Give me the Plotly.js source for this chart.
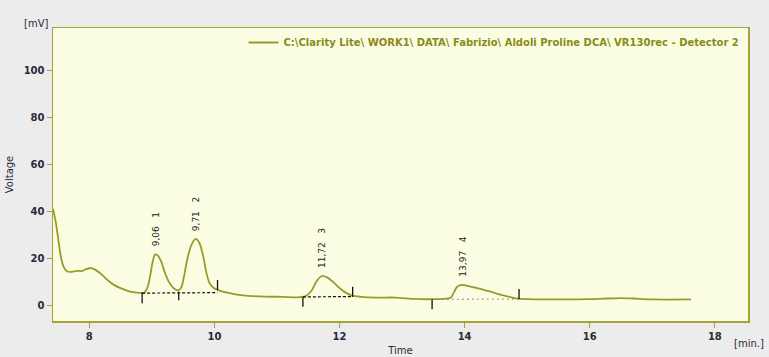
<!DOCTYPE html>
<html>
<head>
<meta charset="utf-8">
<script src="https://cdn.plot.ly/plotly-3.0.1.min.js"></script>
<style>html,body{margin:0;padding:0;background:#ececec;}#chart{width:769px;height:357px;}</style>
</head>
<body>
<div id="chart"></div>
<script>
// Chromatogram signal
const time = [7.42,7.46,7.5,7.55,7.6,7.65,7.72,7.8,7.88,7.95,8.03,8.1,8.2,8.3,8.4,8.5,8.6,8.7,8.8,8.88,8.93,8.97,9.01,9.05,9.1,9.15,9.2,9.27,9.35,9.42,9.47,9.52,9.57,9.63,9.7,9.76,9.82,9.87,9.92,9.98,10.05,10.15,10.3,10.5,10.8,11.1,11.3,11.45,11.55,11.63,11.72,11.8,11.9,12.0,12.1,12.2,12.35,12.6,12.9,13.2,13.5,13.7,13.78,13.83,13.88,13.95,14.05,14.2,14.4,14.6,14.8,15.0,15.5,16.0,16.3,16.5,16.7,17.0,17.62];
const voltage = [41,36,29,20,15.8,14.3,14.2,14.6,14.5,15.3,15.8,15,13,10.5,8.5,7.2,6.2,5.5,5.2,5.3,7.5,12,18,21.5,21,18.5,14.5,10,7.2,6.3,7.5,13,20,25.5,28.2,26.5,21,14,9.5,7.5,6.5,5.6,4.8,4.0,3.6,3.5,3.3,3.7,6,10,12.4,11.8,9.8,7.3,5.3,4.0,3.5,3.2,3.2,2.6,2.5,2.7,3.2,5.5,7.8,8.6,8.2,7.2,5.8,4.2,3.0,2.5,2.4,2.5,2.8,3.0,2.8,2.4,2.4];

// Peaks
const peakTimes = [9.06, 9.71, 11.72, 13.97];
const peakHeights = [21.5, 28.2, 12.4, 8.6];
const peakLabels = ["9,06", "9,71", "11,72", "13,97"];
const peakNumbers = ["1", "2", "3", "4"];

// Integration marks (vertical ticks)
const markX  = [8.845, 9.43, 10.05, 11.415, 12.21, 13.48, 14.87];
const markY0 = [0.8, 2.1, 6.4, -0.7, 3.5, -1.8, 2.6];
const markY1 = [5.2, 5.7, 10.7, 3.3, 7.8, 2.4, 6.9];

// Baselines
const baseDashX = [8.845, 10.05, null, 11.415, 12.21];
const baseDashY = [5.1, 5.3, null, 3.5, 3.6];
const baseDotX = [13.48, 14.87];
const baseDotY = [2.4, 2.6];

const xTicks = [8, 10, 12, 14, 16, 18];
const yTicks = [0, 20, 40, 60, 80, 100];

const seriesName = "C:\\Clarity Lite\\ WORK1\\ DATA\\ Fabrizio\\ Aldoli Proline DCA\\ VR130rec - Detector 2";

const olive = '#9a9a2c';
const frame = '#a3a33a';
const tickFont = {family: 'DejaVu Sans', size: 10, color: '#2a2a3a', weight: 'bold'};

const mx = [], my = [];
markX.forEach((x, i) => { mx.push(x, x, null); my.push(markY0[i], markY1[i], null); });

const traces = [
  {x: time, y: voltage, type: 'scatter', mode: 'lines', name: seriesName,
   line: {color: olive, width: 1.8, shape: 'spline', smoothing: 0.8}, hoverinfo: 'skip'},
  {x: baseDashX, y: baseDashY, type: 'scatter', mode: 'lines', showlegend: false,
   line: {color: '#111', width: 1.2, dash: '3px,2px'}, hoverinfo: 'skip'},
  {x: baseDotX, y: baseDotY, type: 'scatter', mode: 'lines', showlegend: false,
   line: {color: '#8a8a8a', width: 1.3, dash: '1.5px,3.5px'}, hoverinfo: 'skip'},
  {x: mx, y: my, type: 'scatter', mode: 'lines', showlegend: false,
   line: {color: '#111', width: 1.3}, hoverinfo: 'skip'}
];

const annotations = peakTimes.map((t, i) => ({
  x: t, y: peakHeights[i], xref: 'x', yref: 'y',
  text: peakLabels[i] + '\u00a0\u00a0\u00a0' + peakNumbers[i],
  showarrow: false, textangle: -90, xanchor: 'center', yanchor: 'bottom', yshift: 6,
  font: {family: 'DejaVu Sans', size: 9, color: '#222'}
}));
annotations.push({xref: 'paper', yref: 'paper', x: 0, y: 1, xanchor: 'right', yanchor: 'bottom',
  xshift: -3, yshift: -3, text: '[mV]', showarrow: false, font: {family: 'DejaVu Sans', size: 10, color: '#2a2a3a'}});
annotations.push({xref: 'paper', yref: 'paper', x: 1, y: 0, xanchor: 'left', yanchor: 'middle',
  xshift: -16, yshift: -22, text: '[min.]', showarrow: false, font: {family: 'DejaVu Sans', size: 10, color: '#2a2a3a'}});

const layout = {
  width: 769, height: 357,
  margin: {l: 53, r: 21, t: 28, b: 36},
  paper_bgcolor: '#ececec', plot_bgcolor: '#fbfde2',
  showlegend: true,
  legend: {x: 0.995, xanchor: 'right', y: 1, yanchor: 'top', bgcolor: 'rgba(0,0,0,0)',
    font: {family: 'DejaVu Sans', size: 10, color: '#8a8a1a', weight: 'bold'}, itemwidth: 30},
  xaxis: {range: [7.42, 18.53], tickvals: xTicks, ticks: 'outside', ticklen: 5, tickcolor: frame,
    showgrid: false, zeroline: false, showline: true, linecolor: frame, linewidth: 1.5, mirror: true,
    tickfont: tickFont, title: {text: 'Time', standoff: 6, font: {family: 'DejaVu Sans', size: 10, color: '#2a2a3a'}}},
  yaxis: {range: [-6.8, 118.2], tickvals: yTicks, ticks: 'outside', ticklen: 5, tickcolor: frame,
    showgrid: false, zeroline: false, showline: true, linecolor: frame, linewidth: 1.5, mirror: true,
    tickfont: tickFont, title: {text: 'Voltage', standoff: 8, font: {family: 'DejaVu Sans', size: 10, color: '#2a2a3a'}}},
  annotations: annotations
};

Plotly.newPlot('chart', traces, layout, {displayModeBar: false, staticPlot: true});
</script>
</body>
</html>
